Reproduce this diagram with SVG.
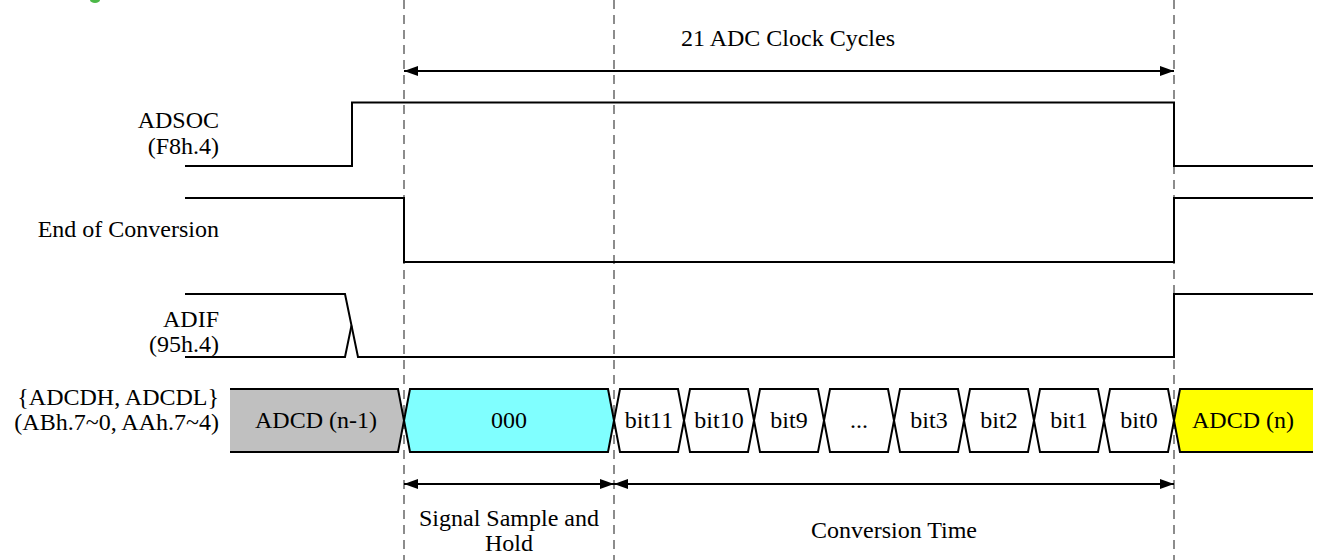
<svg xmlns="http://www.w3.org/2000/svg" width="1318" height="560" viewBox="0 0 1318 560" font-family="Liberation Serif, Tinos, Times New Roman, DejaVu Serif, serif">
<style>
text{font-family:'Liberation Serif',Tinos,'Times New Roman','DejaVu Serif',serif;font-size:24px;fill:#000}
.lbl{text-anchor:end}
.c{text-anchor:middle}
.sig{fill:none;stroke:#000;stroke-width:2}
.bus{stroke:#000;stroke-width:2}
.guide{stroke:#8c8c8c;stroke-width:2;stroke-dasharray:9,6}
.dim{stroke:#000;stroke-width:2;marker-start:url(#ah);marker-end:url(#ah)}
</style>
<defs>
<marker id="ah" viewBox="0 0 14 10" refX="14" refY="5" markerWidth="14" markerHeight="10" markerUnits="userSpaceOnUse" orient="auto-start-reverse">
<path d="M0,0 L14,5 L0,10 Z" fill="#000"/>
</marker>
</defs>
<rect width="1318" height="560" fill="#fff"/>
<ellipse cx="95" cy="0" rx="5" ry="3" fill="#4cb848"/>
<g id="guides">
<line class="guide" x1="404" y1="0" x2="404" y2="560"/>
<line class="guide" x1="614" y1="0" x2="614" y2="560"/>
<line class="guide" x1="1174" y1="0" x2="1174" y2="560"/>
</g>
<g id="labels">
<text class="lbl" x="219" y="128">ADSOC</text>
<text class="lbl" x="219" y="154">(F8h.4)</text>
<text class="lbl" x="219" y="237">End of Conversion</text>
<text class="lbl" x="219" y="327">ADIF</text>
<text class="lbl" x="219" y="352">(95h.4)</text>
<text class="lbl" x="219" y="405">{ADCDH, ADCDL}</text>
<text class="lbl" x="219" y="430">(ABh.7~0, AAh.7~4)</text>
</g>
<g id="adsoc">
<polyline class="sig" points="185,166 352,166 352,102.5 1174,102.5 1174,166 1313,166"/>
</g>
<g id="eoc">
<polyline class="sig" points="185,198 404,198 404,262 1174,262 1174,198 1313,198"/>
</g>
<g id="adif">
<polyline class="sig" points="185,294 345,294 358,357 1174,357 1174,294 1313,294"/>
<polyline class="sig" points="185,357 345,357 351.5,325.5"/>
</g>
<g id="bus">
<g id="seg-prev">
<polygon points="230,389 398,389 404,420.5 398,452 230,452" fill="#c0c0c0"/>
<polyline class="sig" points="230,389 398,389 404,420.5 398,452 230,452"/>
<text class="c" x="316" y="428">ADCD (n-1)</text>
</g>
<g id="seg-000">
<polygon class="bus" points="404,420.5 410,389 608,389 614,420.5 608,452 410,452" fill="#80ffff"/>
<text class="c" x="509" y="428">000</text>
</g>
<g id="seg-bit11"><polygon class="bus" fill="#fff" points="614,420.5 620,389 678,389 684,420.5 678,452 620,452"/><text class="c" x="649" y="428">bit11</text></g>
<g id="seg-bit10"><polygon class="bus" fill="#fff" points="684,420.5 690,389 748,389 754,420.5 748,452 690,452"/><text class="c" x="719" y="428">bit10</text></g>
<g id="seg-bit9"><polygon class="bus" fill="#fff" points="754,420.5 760,389 818,389 824,420.5 818,452 760,452"/><text class="c" x="789" y="428">bit9</text></g>
<g id="seg-dots"><polygon class="bus" fill="#fff" points="824,420.5 830,389 888,389 894,420.5 888,452 830,452"/><text class="c" x="859" y="428">...</text></g>
<g id="seg-bit3"><polygon class="bus" fill="#fff" points="894,420.5 900,389 958,389 964,420.5 958,452 900,452"/><text class="c" x="929" y="428">bit3</text></g>
<g id="seg-bit2"><polygon class="bus" fill="#fff" points="964,420.5 970,389 1028,389 1034,420.5 1028,452 970,452"/><text class="c" x="999" y="428">bit2</text></g>
<g id="seg-bit1"><polygon class="bus" fill="#fff" points="1034,420.5 1040,389 1098,389 1104,420.5 1098,452 1040,452"/><text class="c" x="1069" y="428">bit1</text></g>
<g id="seg-bit0"><polygon class="bus" fill="#fff" points="1104,420.5 1110,389 1168,389 1174,420.5 1168,452 1110,452"/><text class="c" x="1139" y="428">bit0</text></g>
<g id="seg-next">
<polygon points="1313,389 1180,389 1174,420.5 1180,452 1313,452" fill="#ffff00"/>
<polyline class="sig" points="1313,389 1180,389 1174,420.5 1180,452 1313,452"/>
<text class="c" x="1243" y="428">ADCD (n)</text>
</g>
</g>
<g id="connectors">
<line class="dim" x1="404" y1="71" x2="1174" y2="71"/>
<line class="dim" x1="404" y1="484" x2="614" y2="484"/>
<line class="dim" x1="614" y1="484" x2="1174" y2="484"/>
</g>
<g id="dim-labels">
<text class="c" x="788" y="46">21 ADC Clock Cycles</text>
<text class="c" x="509" y="526">Signal Sample and</text>
<text class="c" x="509" y="551">Hold</text>
<text class="c" x="894" y="538">Conversion Time</text>
</g>
</svg>
